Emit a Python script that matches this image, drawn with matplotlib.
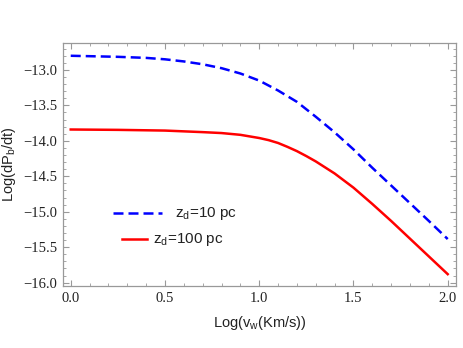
import matplotlib
matplotlib.use("Agg")
import matplotlib.pyplot as plt
from matplotlib.ticker import MultipleLocator

# Data
vw_10 = [0.0, 0.25, 0.4, 0.5, 0.6, 0.7, 0.8, 0.9, 1.0, 1.1, 1.2, 1.3, 1.4, 1.5, 1.6, 1.7, 1.8, 1.9, 2.0]
zd10 = [-12.80, -12.815, -12.83, -12.85, -12.88, -12.92, -12.975, -13.05, -13.15, -13.29, -13.45,
        -13.66, -13.88, -14.12, -14.38, -14.63, -14.88, -15.13, -15.385]
vw_100 = [0.0, 0.25, 0.5, 0.7, 0.8, 0.9, 1.0, 1.05, 1.1, 1.15, 1.2, 1.25, 1.3, 1.35, 1.4,
          1.45, 1.5, 1.6, 1.7, 1.8, 1.9, 2.0]
zd100 = [-13.84, -13.845, -13.855, -13.877, -13.89, -13.915, -13.96, -13.99, -14.03, -14.085,
         -14.145, -14.215, -14.29, -14.375, -14.46, -14.56, -14.66, -14.89, -15.13, -15.38,
         -15.63, -15.88]
labels = ["z$_\\mathregular{d}$=10 pc", "z$_\\mathregular{d}$=100 pc"]
xticks = [0.0, 0.5, 1.0, 1.5, 2.0]
xticklabels = ["0.0", "0.5", "1.0", "1.5", "2.0"]
yticks = [-13.0, -13.5, -14.0, -14.5, -15.0, -15.5, -16.0]
yticklabels = ["\u221213.0", "\u221213.5", "\u221214.0", "\u221214.5", "\u221215.0",
               "\u221215.5", "\u221216.0"]

serif = ['Liberation Serif', 'DejaVu Serif']
sans = ['Liberation Sans', 'DejaVu Sans']

fig = plt.figure(figsize=(4.63, 3.48), dpi=100)
ax = fig.add_axes([63/463, 1-286/348, 393/463, 243/348])

ax.plot(vw_10, zd10, color=(0, 0, 1), lw=1.8, dashes=(4, 2))
ax.plot(vw_100, zd100, color=(1, 0, 0), lw=1.8)

ax.set_xlim(-0.041, 2.044)
ax.set_ylim(-16.047, -12.62)
ax.set_xticks(xticks, labels=xticklabels, family=serif, fontsize=10.5, color="#222222")
ax.set_yticks(yticks, labels=yticklabels, family=serif, fontsize=10.5, color="#222222")
ax.xaxis.set_minor_locator(MultipleLocator(0.1))
ax.yaxis.set_minor_locator(MultipleLocator(0.1))

frame_col = "#999999"
for s in ax.spines.values():
    s.set_color(frame_col)
    s.set_linewidth(0.9)
ax.tick_params(which="both", direction="in", top=True, right=True, color=frame_col)
ax.tick_params(which="major", length=4, width=0.8, pad=4)
ax.tick_params(which="minor", length=2.2, width=0.6)

ax.set_xlabel("Log(v$_\\mathregular{w}$(Km/s))", family=sans, fontsize=10.5,
              color="#222222", labelpad=7)
ax.set_ylabel("Log(dP$_\\mathregular{b}$/dt)", family=sans, fontsize=10.5,
              color="#222222", labelpad=4)

# Legend drawn inside the frame
ax.plot([0.127, 0.252], [0.300, 0.300], transform=ax.transAxes, color=(0, 0, 1), lw=1.8,
        dashes=(4, 2))
ax.text(0.285, 0.300, labels[0], transform=ax.transAxes, va="center", ha="left",
        family=sans, fontsize=11, color="#222222")
ax.plot([0.150, 0.214], [0.193, 0.193], transform=ax.transAxes, color=(1, 0, 0), lw=1.8)
ax.text(0.229, 0.193, labels[1], transform=ax.transAxes, va="center", ha="left",
        family=sans, fontsize=11, color="#222222")

fig.savefig("out.png", dpi=100)
